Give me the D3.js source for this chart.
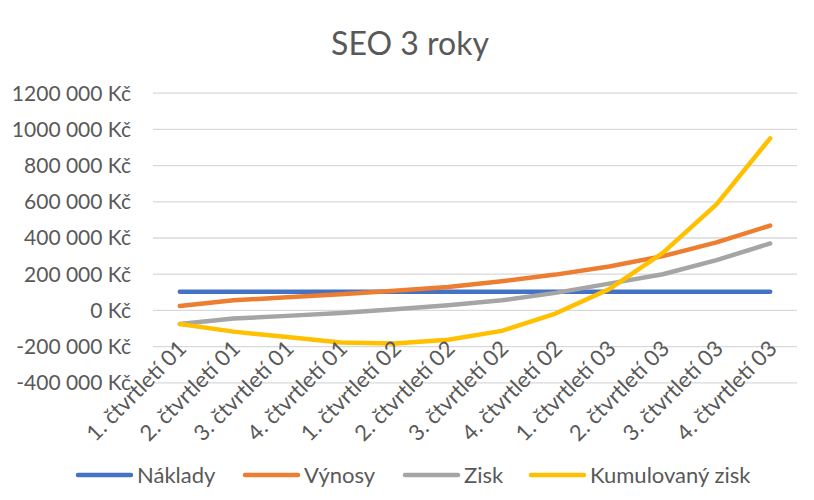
<!DOCTYPE html>
<html>
<head>
<meta charset="utf-8">
<script src="https://cdn.jsdelivr.net/npm/d3@7"></script>
<style>
  body { margin: 0; background: #fff; }
  text { font-family: Lato, "Open Sans", sans-serif; fill: #595959; }
</style>
</head>
<body>
<div id="graph"></div>
<script>
var categories = ["1. čtvrtletí 01", "2. čtvrtletí 01", "3. čtvrtletí 01", "4. čtvrtletí 01",
                  "1. čtvrtletí 02", "2. čtvrtletí 02", "3. čtvrtletí 02", "4. čtvrtletí 02",
                  "1. čtvrtletí 03", "2. čtvrtletí 03", "3. čtvrtletí 03", "4. čtvrtletí 03"];
var naklady = [100000, 100000, 100000, 100000, 100000, 100000, 100000, 100000, 100000, 100000, 100000, 100000];
var vynosy = [22000, 53000, 70000, 86000, 106000, 127000, 158000, 195000, 240000, 297000, 373000, 466000];
var zisk = [-78000, -48000, -33000, -17000, 4000, 26000, 53000, 94000, 145000, 197000, 275000, 367000];
var kumulovany = [-78000, -120000, -150000, -180000, -186000, -165000, -116000, -20000, 115000, 315000, 583000, 948000];
var yTicks = [-400000, -200000, 0, 200000, 400000, 600000, 800000, 1000000, 1200000];
var yTickLabels = ["-400 000 Kč", "-200 000 Kč", "0 Kč", "200 000 Kč", "400 000 Kč",
                   "600 000 Kč", "800 000 Kč", "1000 000 Kč", "1200 000 Kč"];
var seriesNames = ["Náklady", "Výnosy", "Zisk", "Kumulovaný zisk"];
var seriesColors = ["#4472C4", "#ED7D31", "#A5A5A5", "#FFC000"];

var width = 814;
var height = 500;
var plotLeft = 153, plotRight = 797, plotTop = 92.7, plotBottom = 382.3;

var svg = d3.select('#graph')
    .append('svg')
    .attr('width', width)
    .attr('height', height);

svg.append("text")
    .attr("x", 410)
    .attr("y", 55)
    .attr("text-anchor", "middle")
    .style("font-size", "32px")
    .text("SEO 3 roky");

var scaleX = d3.scaleBand()
    .domain(categories)
    .range([plotLeft, plotRight]);

var scaleY = d3.scaleLinear()
    .domain([-400000, 1200000])
    .range([plotBottom, plotTop]);

// gridlines + y labels
var yAxis = d3.axisLeft(scaleY)
    .tickValues(yTicks)
    .tickSize(-(plotRight - plotLeft))
    .tickFormat(function(d, i) { return yTickLabels[i]; });

var gy = svg.append("g")
    .attr("transform", "translate(" + plotLeft + ",0)")
    .call(yAxis);
gy.select(".domain").remove();
gy.selectAll(".tick line").attr("stroke", "#D9D9D9").attr("stroke-width", 1.3);
gy.selectAll(".tick text")
    .attr("x", -22)
    .attr("dy", "0.35em")
    .style("font-size", "21px")
    .style("font-family", "Lato, sans-serif")
    .attr("fill", "#595959");

var series = [naklady, vynosy, zisk, kumulovany];

var line = d3.line()
    .x(function(d, i) { return scaleX(categories[i]) + scaleX.bandwidth() / 2; })
    .y(function(d) { return scaleY(d); });

svg.append("g")
    .selectAll("path")
    .data(series)
    .enter()
    .append("path")
    .attr("d", line)
    .attr("fill", "none")
    .attr("stroke", function(d, i) { return seriesColors[i]; })
    .attr("stroke-width", 4.5)
    .attr("stroke-linecap", "round")
    .attr("stroke-linejoin", "round");

// category labels
svg.append("g")
    .selectAll("text")
    .data(categories)
    .enter()
    .append("text")
    .attr("text-anchor", "end")
    .attr("transform", function(d) {
        var x = scaleX(d) + scaleX.bandwidth() / 2 + 8;
        return "translate(" + x + ",350) rotate(-45)";
    })
    .style("font-size", "22px")
    .text(function(d) { return d; });

// legend
var legendX = [78, 245, 405, 531];
var lg = svg.append("g")
    .selectAll("g")
    .data(seriesNames)
    .enter()
    .append("g")
    .attr("transform", function(d, i) { return "translate(" + legendX[i] + ",475)"; });
lg.append("line")
    .attr("x1", 0).attr("x2", 53)
    .attr("stroke", function(d, i) { return seriesColors[i]; })
    .attr("stroke-width", 4.5)
    .attr("stroke-linecap", "round");
lg.append("text")
    .attr("x", 59)
    .attr("y", 7.5)
    .style("font-size", "22px")
    .text(function(d) { return d; });
</script>
</body>
</html>
